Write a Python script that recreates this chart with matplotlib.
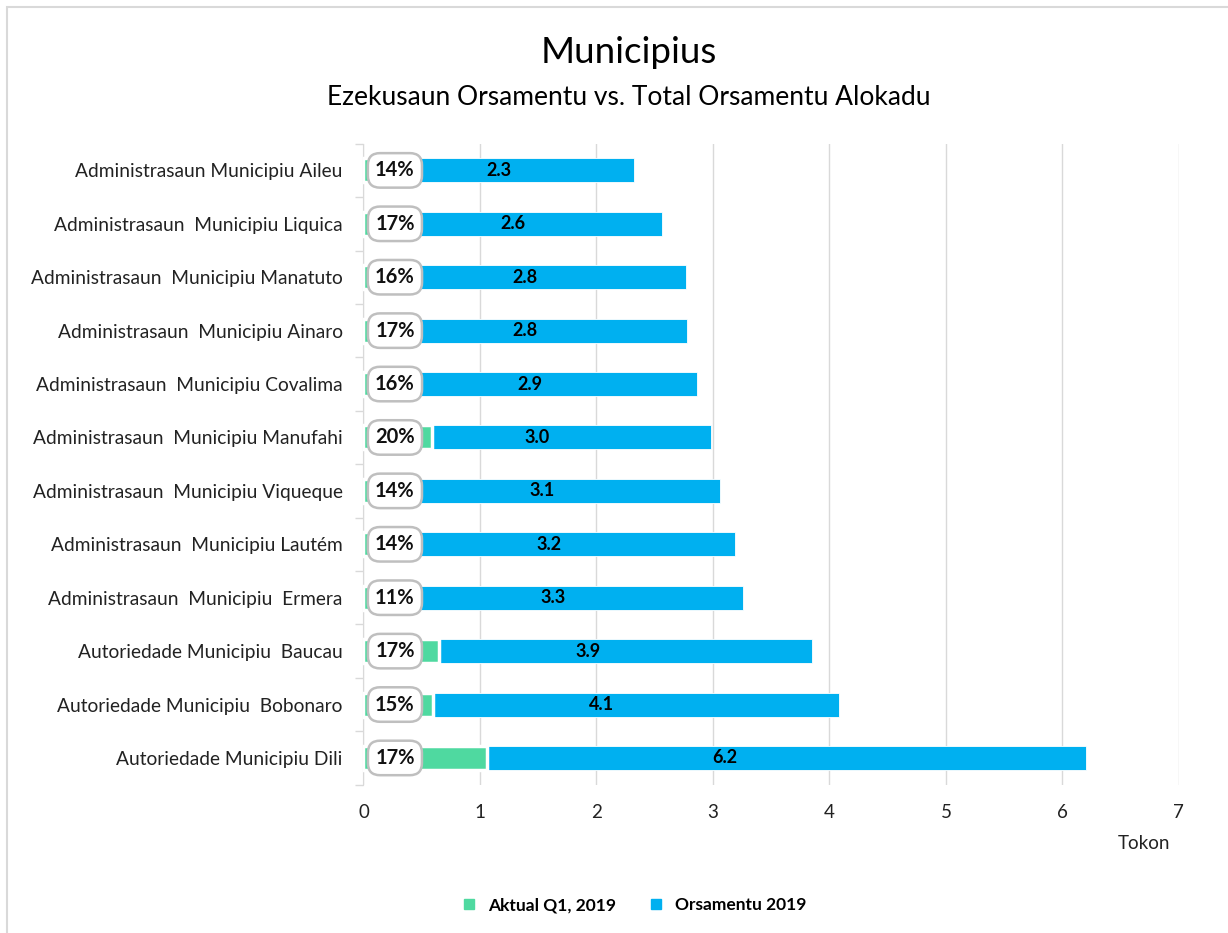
import matplotlib.pyplot as plt
import matplotlib.patches as patches
import matplotlib.lines as mlines

plt.rcParams['font.family'] = ['Lato', 'DejaVu Sans']

categories = [
    'Administrasaun Municipiu Aileu',
    'Administrasaun  Municipiu Liquica',
    'Administrasaun  Municipiu Manatuto',
    'Administrasaun  Municipiu Ainaro',
    'Administrasaun  Municipiu Covalima',
    'Administrasaun  Municipiu Manufahi',
    'Administrasaun  Municipiu Viqueque',
    'Administrasaun  Municipiu Lautém',
    'Administrasaun  Municipiu  Ermera',
    'Autoriedade Municipiu  Baucau',
    'Autoriedade Municipiu  Bobonaro',
    'Autoriedade Municipiu Dili',
]
orsamentu = [2.32, 2.56, 2.77, 2.78, 2.86, 2.98, 3.06, 3.19, 3.26, 3.85, 4.08, 6.20]
aktual = [0.32, 0.44, 0.44, 0.47, 0.46, 0.59, 0.43, 0.45, 0.36, 0.65, 0.60, 1.06]
percent = ['14%', '17%', '16%', '17%', '16%', '20%', '14%', '14%', '11%', '17%', '15%', '17%']

BLUE = '#00B0F0'
GREEN = '#4FD9A0'
GRID = '#D9D9D9'

fig = plt.figure(figsize=(12.28, 9.33), dpi=100)
ax = fig.add_axes([0.296, 0.159, 0.664, 0.687])

n = len(categories)
ypos = [n - 1 - i for i in range(n)]

ax.barh(ypos, orsamentu, height=0.45, color=BLUE, edgecolor='white', linewidth=0.6, zorder=2)
ax.barh(ypos, aktual, height=0.45, color=GREEN, edgecolor='white', linewidth=2.5, zorder=3)

for y, tot, pct in zip(ypos, orsamentu, percent):
    ax.text(tot / 2, y, f'{tot:.1f}', ha='center', va='center',
            fontsize=13, fontweight='bold', color='black', zorder=5)
    ax.text(0.27, y, pct, ha='center', va='center', fontsize=14.5,
            fontweight='bold', color='#111111', zorder=6,
            bbox=dict(boxstyle='round,pad=0.36,rounding_size=0.6',
                      facecolor='white', edgecolor='#BFBFBF', linewidth=1.8))

ax.set_xlim(0, 7)
ax.set_ylim(-0.5, n - 0.5)
ax.set_xticks(range(8))
ax.tick_params(axis='x', length=0, labelsize=13.5, pad=14, colors='#222222')
ax.xaxis.grid(True, color=GRID, linewidth=1)
ax.set_axisbelow(True)

ax.set_yticks(ypos)
ax.set_yticklabels(categories, fontsize=13.8)
ax.tick_params(axis='y', which='major', length=0, pad=15, colors='#222222')
ax.set_yticks([y + 0.5 for y in range(-1, n)], minor=True)
ax.tick_params(axis='y', which='minor', length=6, color=GRID, width=1)

for s in ['top', 'right', 'bottom']:
    ax.spines[s].set_visible(False)
ax.spines['left'].set_color(GRID)

fig.text(0.953, 0.096, 'Tokon', fontsize=13.5, ha='right', va='center', color='#222222')

fig.text(0.512, 0.944, 'Municipius', fontsize=26.5, ha='center', va='center', color='black')
fig.text(0.512, 0.895, 'Ezekusaun Orsamentu vs. Total Orsamentu Alokadu', fontsize=19,
         ha='center', va='center', color='black')

h1 = mlines.Line2D([], [], color=GREEN, marker='s', linestyle='None', markersize=7,
                   label='Aktual Q1, 2019')
h2 = mlines.Line2D([], [], color=BLUE, marker='s', linestyle='None', markersize=7,
                   label='Orsamentu 2019')
fig.legend(handles=[h1, h2], loc='center', bbox_to_anchor=(0.512, 0.03), ncol=2,
           frameon=False, prop={'weight': 'bold', 'size': 12.5}, handletextpad=0.1,
           columnspacing=1.3)

frame = patches.Rectangle((0.006, -0.05), 1.2, 1.043, transform=fig.transFigure,
                          fill=False, edgecolor='#D9D9D9', linewidth=1.5)
fig.add_artist(frame)

fig.savefig('out.png', dpi=100)
